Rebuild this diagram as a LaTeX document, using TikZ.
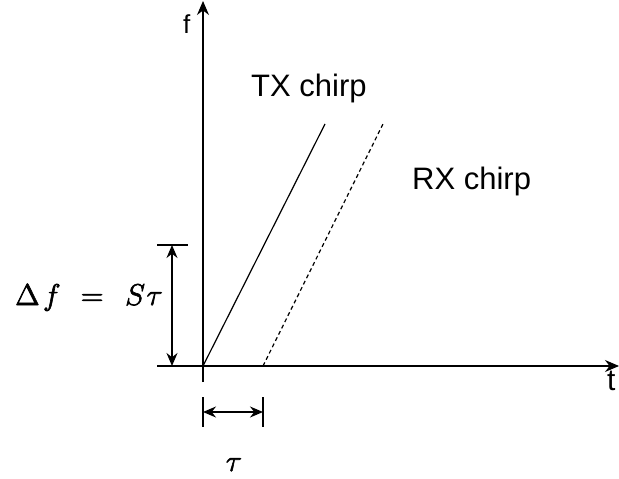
\documentclass[tikz,border=0pt]{standalone}
\usepackage{graphicx}
\usepackage{fontspec}
\setmainfont{Liberation Sans}
\usetikzlibrary{arrows.meta}
\newcommand{\heavytxt}[1]{\special{pdf:literal 2 Tr 0.25 w}#1\special{pdf:literal 0 Tr}}
\begin{document}
\begin{tikzpicture}[x=1pt,y=-1pt,
  axis/.style={line width=1.2pt,-{Stealth[length=14pt,width=12pt]}},
  dim/.style={line width=1.2pt,{Stealth[length=13pt,width=11pt]}-{Stealth[length=13pt,width=11pt]}},
  tick/.style={line width=1.2pt},
  chirp/.style={line width=1.2pt},
  lbl/.style={inner sep=0pt,anchor=base west,font=\fontsize{31}{31}\selectfont},
  mlbl/.style={inner sep=0pt,font=\fontsize{12}{12}\selectfont}]
\useasboundingbox (0,0) rectangle (619,479);
% coordinates
\coordinate (O) at (203,366);
\coordinate (ybot) at (203,382);
\coordinate (ytop) at (203,1);
\coordinate (xleft) at (157,366);
\coordinate (xright) at (619,366);
\coordinate (TXend) at (325,124);
\coordinate (RXstart) at (263,366);
\coordinate (RXend) at (383,124);
\coordinate (vtickL) at (157,245);
\coordinate (vtickR) at (188,245);
\coordinate (vtop) at (172,245);
\coordinate (vbot) at (172,366);
\coordinate (htA1) at (203,397);
\coordinate (htA2) at (203,427);
\coordinate (htB1) at (263,397);
\coordinate (htB2) at (263,427);
\coordinate (hl) at (203,412);
\coordinate (hr) at (263,412);
% axes
\draw[axis] (ybot) -- (ytop);
\draw[axis] (xleft) -- (xright);
% chirps
\draw[chirp] (O) -- (TXend);
\draw[chirp,dash pattern=on 4pt off 3pt] (RXstart) -- (RXend);
% vertical dimension
\draw[tick] (vtickL) -- (vtickR);
\draw[dim] (vtop) -- (vbot);
% horizontal dimension
\draw[tick] (htA1) -- (htA2);
\draw[tick] (htB1) -- (htB2);
\draw[dim] (hl) -- (hr);
% labels
\node[lbl,font=\fontsize{26}{26}\selectfont] (flbl) at (183,33) {f};
\node[lbl,font=\fontsize{30}{30}\selectfont] (tlbl) at (607,390) {t};
\node[lbl] (tx) at (251,96) {TX chirp};
\node[lbl] (rx) at (412,189) {RX chirp};
\node[mlbl,anchor=base west] (df) at (15,305) {\scalebox{2.5}{\heavytxt{$\Delta\mkern2mu f\mkern7mu=\mkern8mu S\mkern1mu\tau$}}};
\node[mlbl,anchor=base] (tau) at (234,471) {\scalebox{2.5}{\heavytxt{$\tau$}}};
\end{tikzpicture}
\end{document}
